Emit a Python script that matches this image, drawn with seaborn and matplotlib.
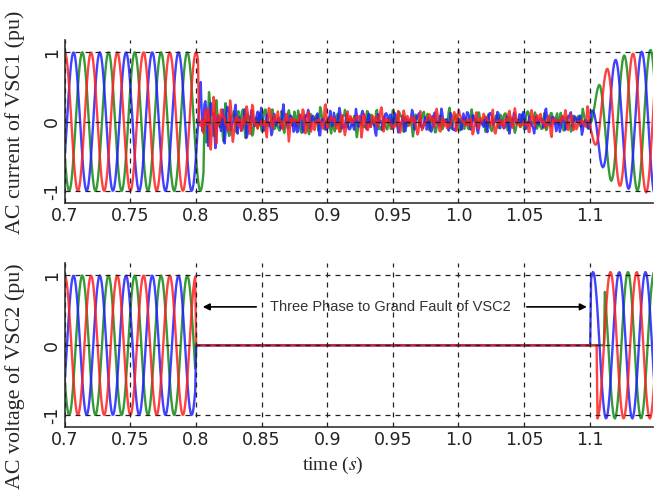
import numpy as np
import pandas as pd
import matplotlib
matplotlib.use('Agg')
import matplotlib.pyplot as plt
import seaborn as sns

sns.set_style('white')
plt.rcParams['font.family'] = ['DejaVu Sans']
plt.rcParams['mathtext.fontset'] = 'stix'

# ===============================
# values
# ===============================
freq_hz = 50
phase_names = ['a', 'b', 'c']
phase_shift_deg = [0, -120, 120]          # red, blue, green
phase_colors = {'a': '#ff1f1f', 'b': '#1f1fff', 'c': '#138a13'}
draw_order = ['c', 'b', 'a']

t_start, t_end = 0.7, 1.15
x_ticks = [0.7, 0.75, 0.8, 0.85, 0.9, 0.95, 1.0, 1.05, 1.1]
x_tick_labels = ['0.7', '0.75', '0.8', '0.85', '0.9', '0.95', '1.0', '1.05', '1.1']
y_ticks = [-1, 0, 1]

# VSC1 current: fault instant per phase, ripple envelope during the fault
cur_fault_t = [0.802, 0.804, 0.806]
cur_fault_fund = 0.05
cur_ripple_t = [0.802, 0.808, 0.815, 0.825, 0.85, 0.9, 1.0, 1.1]
cur_ripple_amp = [0.35, 0.4, 0.35, 0.25, 0.18, 0.16, 0.14, 0.13]
ripple_harm = [3.3, 4.7, 6.1, 8.3]
ripple_weight = [0.45, 0.4, 0.35, 0.25]
ripple_phase_deg = [[0, 40, 75, 130], [90, 160, 20, 250], [200, 280, 140, 10]]
# VSC1 current after clearing: amplitude build-up
cur_clear_t = 1.101
cur_rec_t = [1.101, 1.108, 1.116, 1.125, 1.15]
cur_rec_amp = [0.15, 0.6, 0.85, 0.95, 1.05]

# VSC2 voltage: collapses at 0.8, each phase comes back after clearing
volt_drop_t = 0.8
volt_restart_t = [1.106, 1.101, 1.111]
volt_rec_amp = 1.05

dt = 0.0007
t = np.arange(t_start, t_end + dt, dt)
w = 2 * np.pi * freq_hz

cur_rows, volt_rows = [], []
for i, ph in enumerate(phase_names):
    sh = np.deg2rad(phase_shift_deg[i])
    base = np.cos(w * t + sh)

    # current
    env = np.interp(t, cur_ripple_t, cur_ripple_amp)
    ripple = np.zeros_like(t)
    for h, wt, p in zip(ripple_harm, ripple_weight, ripple_phase_deg[i]):
        ripple += wt * np.sin(h * w * t + np.deg2rad(p))
    fault = cur_fault_fund * base + env * ripple
    rec = np.interp(t, cur_rec_t, cur_rec_amp) * np.cos(w * t + sh + 2.2)
    cur = np.where(t < cur_fault_t[i], base, np.where(t < cur_clear_t, fault, rec))
    cur_rows.append(pd.DataFrame({'t': t, 'v': cur, 'phase': ph}))

    # voltage
    volt = np.where(t <= volt_drop_t, base,
                    np.where(t < volt_restart_t[i], 0.0,
                             volt_rec_amp * np.cos(w * t + sh + 1.3)))
    volt_rows.append(pd.DataFrame({'t': t, 'v': volt, 'phase': ph}))

df_cur = pd.concat(cur_rows, ignore_index=True)
df_volt = pd.concat(volt_rows, ignore_index=True)

# ===============================
# figure
# ===============================
fig = plt.figure(figsize=(6.68, 4.97), dpi=100)
ax1 = fig.add_axes([0.097, 0.592, 0.880, 0.328])
ax2 = fig.add_axes([0.097, 0.141, 0.880, 0.330])

for ax, df in [(ax1, df_cur), (ax2, df_volt)]:
    sns.lineplot(data=df, x='t', y='v', hue='phase', hue_order=draw_order,
                 palette=phase_colors, estimator=None, sort=False,
                 legend=False, lw=1.7, alpha=0.85, ax=ax)
    ax.set_xlim(0.7, 1.148)
    ax.set_ylim(-1.17, 1.18)
    ax.set_xticks(x_ticks)
    ax.set_xticklabels(x_tick_labels, fontsize=12.5)
    ax.set_yticks(y_ticks)
    ax.set_yticklabels([str(v) for v in y_ticks], fontsize=12.5,
                       rotation=90, va='center')
    ax.tick_params(direction='in', length=4, width=1, pad=3, colors='#222222')
    ax.grid(True, ls=(0, (4, 4)), color='#222222', lw=0.9)
    ax.set_axisbelow(False)
    ax.set_xlabel('')
    ax.set_ylabel('')
    for s in ['top', 'right']:
        ax.spines[s].set_visible(False)
    for s in ['left', 'bottom']:
        ax.spines[s].set_color('#333333')
        ax.spines[s].set_linewidth(1.2)

# fault annotation on the voltage plot
ax2.annotate('', xy=(0.803, 0.55), xytext=(0.848, 0.55),
             arrowprops=dict(arrowstyle='-|>', color='k', lw=1.2))
ax2.annotate('', xy=(1.1, 0.55), xytext=(1.05, 0.55),
             arrowprops=dict(arrowstyle='-|>', color='k', lw=1.2))
ax2.text(0.9485, 0.55, 'Three Phase to Grand Fault of VSC2', ha='center',
         va='center', fontsize=10.5, color='#333333',
         family=['Liberation Sans', 'DejaVu Sans'])

fig.text(0.022, 1 - 122 / 497, 'AC current of VSC1 (pu)', rotation=90,
         ha='center', va='center', fontsize=15.8,
         family=['Liberation Serif', 'DejaVu Serif'])
fig.text(0.022, 1 - 376 / 497, 'AC voltage of VSC2 (pu)', rotation=90,
         ha='center', va='center', fontsize=15.8,
         family=['Liberation Serif', 'DejaVu Serif'])
fig.text(333 / 668, 1 - 465 / 497, r'time ($s$)', ha='center', va='center',
         fontsize=14, family=['Liberation Serif', 'DejaVu Serif'])

fig.savefig('out.png', dpi=100)
plt.close()
